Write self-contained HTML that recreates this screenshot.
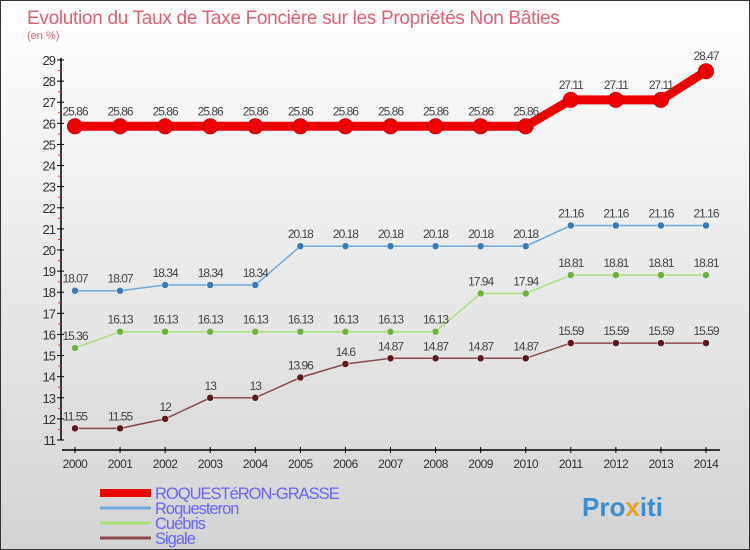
<!DOCTYPE html>
<html><head><meta charset="utf-8"><style>
body{margin:0}
svg{display:block;font-family:"Liberation Sans",sans-serif}
</style></head><body>
<svg id="c" width="750" height="550">
<defs><linearGradient id="bg" x1="0" y1="0" x2="0" y2="1"><stop offset="0" stop-color="#ffffff"/><stop offset="1" stop-color="#d4d4d4"/></linearGradient></defs>
<rect x="0.5" y="0.5" width="749" height="549" fill="url(#bg)" stroke="#333"/>
<text x="27" y="24" font-size="19" fill="#e06070" letter-spacing="-0.3">Evolution du Taux de Taxe Foncière sur les Propriétés Non Bâties</text>
<text x="27" y="39" font-size="11" fill="#e06070">(en %)</text>
<g id="axes"></g><g id="series"></g><g id="legend"></g>
<text x="582" y="516" font-size="26" font-weight="bold" fill="#3b8fd0">Pro<tspan fill="#f0a020">x</tspan>iti</text>
</svg>
<script>
const years=[2000,2001,2002,2003,2004,2005,2006,2007,2008,2009,2010,2011,2012,2013,2014];
const roq=[25.86,25.86,25.86,25.86,25.86,25.86,25.86,25.86,25.86,25.86,25.86,27.11,27.11,27.11,28.47];
const roque=[18.07,18.07,18.34,18.34,18.34,20.18,20.18,20.18,20.18,20.18,20.18,21.16,21.16,21.16,21.16];
const cueb=[15.36,16.13,16.13,16.13,16.13,16.13,16.13,16.13,16.13,17.94,17.94,18.81,18.81,18.81,18.81];
const sig=[11.55,11.55,12,13,13,13.96,14.6,14.87,14.87,14.87,14.87,15.59,15.59,15.59,15.59];
const yTicks=[11,12,13,14,15,16,17,18,19,20,21,22,23,24,25,26,27,28,29];
const NS="http://www.w3.org/2000/svg";
const xS=i=>75+i*(706-75)/(years.length-1);
const yS=v=>440-(v-11)*(380/18);
function mk(t,a,p){const e=document.createElementNS(NS,t);for(const k in a)e.setAttribute(k,a[k]);p.appendChild(e);return e;}
const ax=document.getElementById('axes');
let l=mk('line',{x1:61,y1:58,x2:61,y2:440,stroke:'#000','stroke-width':1.5},ax);


l=mk('line',{x1:62,y1:450,x2:720,y2:450,stroke:'#000','stroke-width':1.5},ax);


yTicks.forEach(v=>{const y=yS(v);
mk('line',{x1:57,y1:y,x2:64,y2:y,stroke:'#000'},ax);
if(v<29)mk('line',{x1:58,y1:y-10.5,x2:61,y2:y-10.5,stroke:'#e03030'},ax);
const t=mk('text',{x:55,y:y+5,'text-anchor':'end','font-size':13,fill:'#333','letter-spacing':'-1'},ax);t.textContent=v;

});
years.forEach((yr,i)=>{const x=xS(i);
mk('line',{x1:x,y1:447,x2:x,y2:453,stroke:'#000'},ax);
const t=mk('text',{x:x,y:468,'text-anchor':'middle','font-size':12,fill:'#333','letter-spacing':'-0.5'},ax);t.textContent=yr;

});
const sg=document.getElementById('series');
const defs=[[roq,'#ee0000','#d00000',9,7.5,'roquesteron-grasse'],[roque,'#6fa8d8','#3a7ab8',1.5,3.5,'roquesteron'],[cueb,'#a8e07a','#70b040',1.5,3.5,'cuebris'],[sig,'#8a4a4a','#5a1a1a',1.5,3.5,'sigale']];
defs.forEach(([d,c,dc,w,r,n])=>{
const g=mk('g',{},sg);


mk('polyline',{points:d.map((v,i)=>xS(i)+','+yS(v)).join(' '),fill:'none',stroke:c,'stroke-width':w},g);
d.forEach((v,i)=>{const cc=mk('circle',{cx:xS(i),cy:yS(v),r:r,fill:w>5?c:dc,stroke:w>5?'#c00':'#fff','stroke-width':w>5?1:0.5},g);


const t=mk('text',{x:xS(i),y:yS(v)-(w>5?11:8),'text-anchor':'middle','font-size':12,fill:'#444','letter-spacing':'-1'},g);t.textContent=v;

});});
const lg=document.getElementById('legend');
const names=['ROQUESTéRON-GRASSE','Roquesteron','Cuébris','Sigale'];
defs.forEach((d,i)=>{const y=[493,508,523,538][i];
const g=mk('g',{},lg);


mk('line',{x1:100,y1:y,x2:151,y2:y,stroke:d[1],'stroke-width':i==0?8:3},g);
const t=mk('text',{x:155,y:y+6,'font-size':16.5,fill:'#6666ff','letter-spacing':'-1'},g);t.textContent=names[i];});
</script>
</body></html>
